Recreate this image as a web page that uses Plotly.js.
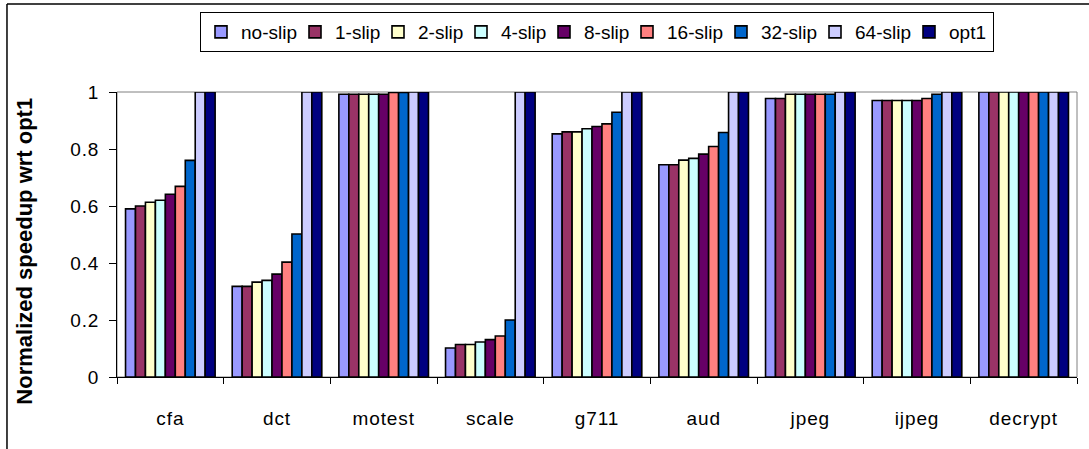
<!DOCTYPE html>
<html>
<head>
<meta charset="utf-8">
<script src="https://cdn.plot.ly/plotly-3.0.1.min.js"></script>
<style>
html,body{margin:0;padding:0;background:#fff;}
#chart{width:1089px;height:449px;}
#chart .xtick text{letter-spacing:0.9px;}
#chart .ytick text{letter-spacing:0.8px;}
</style>
</head>
<body>
<div id="chart"></div>
<script>
const categories = ["cfa","dct","motest","scale","g711","aud","jpeg","ijpeg","decrypt"];
const seriesNames = ["no-slip","1-slip","2-slip","4-slip","8-slip","16-slip","32-slip","64-slip","opt1"];
const noSlip  = [0.59, 0.318, 0.992, 0.102, 0.853, 0.745, 0.977, 0.970, 1.0];
const slip1   = [0.60, 0.318, 0.992, 0.114, 0.860, 0.745, 0.977, 0.970, 1.0];
const slip2   = [0.613, 0.333, 0.992, 0.114, 0.860, 0.761, 0.992, 0.970, 1.0];
const slip4   = [0.62, 0.339, 0.992, 0.123, 0.871, 0.767, 0.992, 0.970, 1.0];
const slip8   = [0.641, 0.361, 0.992, 0.131, 0.879, 0.782, 0.992, 0.970, 1.0];
const slip16  = [0.669, 0.403, 0.998, 0.144, 0.888, 0.809, 0.992, 0.977, 1.0];
const slip32  = [0.76, 0.502, 0.998, 0.20, 0.929, 0.858, 0.992, 0.992, 1.0];
const slip64  = [1.0, 1.0, 1.0, 1.0, 1.0, 1.0, 1.0, 1.0, 1.0];
const opt1    = [1.0, 1.0, 1.0, 1.0, 1.0, 1.0, 1.0, 1.0, 1.0];
const yTickVals = [0, 0.2, 0.4, 0.6, 0.8, 1];
const yTickText = ["0", "0.2", "0.4", "0.6", "0.8", "1"];
const yGridVals = [0.2, 0.4, 0.6, 0.8];

const seriesValues = [noSlip, slip1, slip2, slip4, slip8, slip16, slip32, slip64, opt1];
const colors = ["#9999FF","#993366","#FFFFCC","#CCFFFF","#660066","#FF8080","#0066CC","#CCCCFF","#000080"];
const FONT = "Arial, 'Liberation Sans', sans-serif";
const LEGEND_SIZE = 19;

// measure legend text so entries can sit tighter (like the Excel legend)
const ctx = document.createElement("canvas").getContext("2d");
ctx.font = LEGEND_SIZE + "px 'Liberation Sans', Arial, sans-serif";
const textW = s => ctx.measureText(s).width;

const traces = seriesNames.map((name, i) => ({
  type: "bar",
  name: name,
  x: categories,
  y: seriesValues[i],
  marker: {color: colors[i], line: {color: "#000000", width: 1.6}},
  legendwidth: Math.max(1, Math.round(textW(name) + (i === seriesNames.length - 1 ? 2 : -7))),
  hoverinfo: "x+y+name"
}));

const layout = {
  width: 1089,
  height: 449,
  margin: {l: 117, r: 12, t: 92, b: 72},
  paper_bgcolor: "#ffffff",
  plot_bgcolor: "#ffffff",
  barmode: "group",
  bargap: 0.16,
  bargroupgap: 0,
  showlegend: true,
  font: {family: FONT, size: 17, color: "#000000"},
  legend: {
    orientation: "h",
    x: 0.5, xanchor: "center",
    y: 1.2105, yanchor: "middle",
    bordercolor: "#000000",
    borderwidth: 1,
    bgcolor: "#ffffff",
    font: {family: FONT, size: LEGEND_SIZE, color: "#000000"},
    itemwidth: 30,
    traceorder: "normal"
  },
  xaxis: {
    type: "category",
    tickson: "boundaries",
    ticks: "outside",
    ticklen: 6,
    tickcolor: "#000000",
    showline: true,
    linecolor: "#000000",
    linewidth: 1,
    showgrid: false,
    tickfont: {family: FONT, size: 19, color: "#000000"},
    ticklabelstandoff: 24,
    fixedrange: true
  },
  yaxis: {
    range: [0, 1],
    tickvals: yTickVals,
    ticktext: yTickText,
    ticks: "outside",
    ticklen: 7,
    tickcolor: "#000000",
    showline: true,
    linecolor: "#000000",
    linewidth: 1,
    showgrid: false,
    zeroline: false,
    tickfont: {family: FONT, size: 19, color: "#000000"},
    ticklabelstandoff: 6,
    fixedrange: true
  },
  yaxis2: {
    overlaying: "y",
    range: [0, 1],
    tickvals: yGridVals,
    showticklabels: false,
    ticks: "",
    showline: false,
    showgrid: true,
    gridcolor: "#000000",
    gridwidth: 1,
    zeroline: false,
    fixedrange: true
  },
  shapes: [
    {type: "rect", xref: "paper", yref: "paper", x0: 0, x1: 1, y0: 0, y1: 1,
     line: {color: "#808080", width: 1}, layer: "below"},
    {type: "line", xref: "paper", yref: "paper", x0: -0.1146, x1: 1.02, y0: 1.3088, y1: 1.3088,
     line: {color: "#000000", width: 1.5}},
    {type: "line", xref: "paper", yref: "paper", x0: -0.1146, x1: -0.1146, y0: -0.26, y1: 1.3088,
     line: {color: "#000000", width: 1.5}}
  ],
  annotations: [
    {text: "<b>Normalized speedup wrt opt1</b>", xref: "paper", yref: "paper",
     x: -0.0958, y: 0.44, textangle: -90, showarrow: false,
     font: {family: FONT, size: 22, color: "#000000"}, xanchor: "center", yanchor: "middle"}
  ]
};

Plotly.newPlot("chart", traces, layout, {displayModeBar: false, staticPlot: false});
</script>
</body>
</html>
